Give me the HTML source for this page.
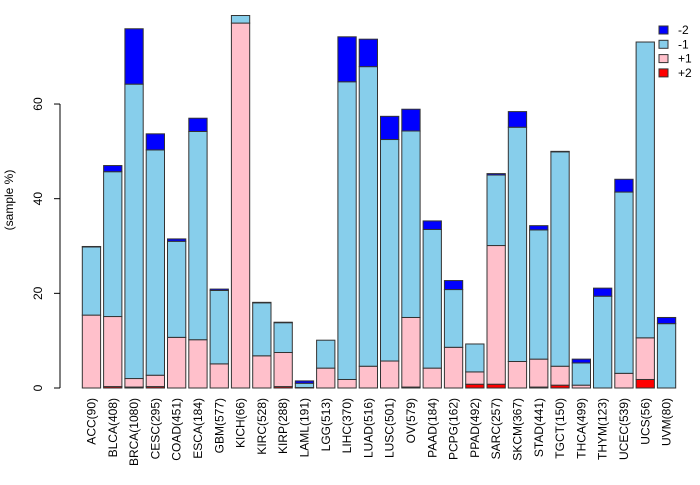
<!DOCTYPE html>
<html><head><meta charset="utf-8"><style>
body{margin:0;background:#fff}
text{font-family:"Liberation Sans",sans-serif;font-size:12px;fill:#000}
</style></head><body>
<svg id="chart" width="700" height="480" xmlns="http://www.w3.org/2000/svg"></svg>
<script>
const categories=["ACC(90)","BLCA(408)","BRCA(1080)","CESC(295)","COAD(451)","ESCA(184)","GBM(577)","KICH(66)","KIRC(528)","KIRP(288)","LAML(191)","LGG(513)","LIHC(370)","LUAD(516)","LUSC(501)","OV(579)","PAAD(184)","PCPG(162)","PPAD(492)","SARC(257)","SKCM(367)","STAD(441)","TGCT(150)","THCA(499)","THYM(123)","UCEC(539)","UCS(56)","UVM(80)"];
const plus2=[0,0.3,0.2,0.3,0,0,0,0,0,0.3,0,0,0,0,0,0.2,0,0,0.8,0.8,0,0.2,0.6,0,0,0,1.8,0];
const plus1=[15.4,14.8,1.8,2.4,10.7,10.2,5.1,77.1,6.8,7.2,0.1,4.2,1.8,4.6,5.7,14.7,4.2,8.6,2.6,29.3,5.6,5.9,4.0,0.6,0,3.1,8.8,0];
const minus1=[14.4,30.6,62.2,47.6,20.3,44.0,15.5,1.6,11.2,6.3,0.9,5.9,62.9,63.3,46.8,39.4,29.3,12.2,5.9,14.9,49.5,27.3,45.3,4.7,19.4,38.3,62.5,13.6];
const minus2=[0.1,1.3,11.7,3.4,0.5,2.8,0.3,0,0.1,0.1,0.5,0,9.5,5.8,4.9,4.6,1.8,1.9,0,0.3,3.3,0.9,0.1,0.8,1.7,2.7,0,1.3];
const yTicks=[0,20,40,60];
const seriesVals=[plus2,plus1,minus1,minus2];
const seriesNames=["+2","+1","-1","-2"];
const colors=["#ff0000","#ffc0cb","#87ceeb","#0000ff"];
const NS="http://www.w3.org/2000/svg";
const svg=document.getElementById('chart');
const y0=388, pxPerUnit=4.733, xStart=82.3, slot=21.3, bw=18.3;
function yScale(v){return y0-v*pxPerUnit;}
function xScale(i){return xStart+slot*i;}
function mk(t,a){const e=document.createElementNS(NS,t);for(const k in a)e.setAttribute(k,a[k]);svg.appendChild(e);return e;}
categories.forEach((c,i)=>{
  let cum=0;
  seriesVals.forEach((s,j)=>{
    const v=s[i]; if(v<=0)return;
    const r=mk('rect',{x:xScale(i),y:yScale(cum+v),width:bw,height:v*pxPerUnit,fill:colors[j],stroke:'#333','stroke-width':1});
    
    
    cum+=v;
  });
  const t=mk('text',{x:0,y:0,transform:`translate(${xScale(i)+bw/2+4},398) rotate(-90)`,'text-anchor':'end'});
  t.textContent=c;
  
  
});
const ax=mk('line',{x1:60,x2:60,y1:yScale(0),y2:yScale(60),stroke:'#000'});


yTicks.forEach(v=>{
  const l=mk('line',{x1:54,x2:60,y1:yScale(v),y2:yScale(v),stroke:'#000'});
  
  
  const t=mk('text',{x:0,y:0,transform:`translate(42,${yScale(v)}) rotate(-90)`,'text-anchor':'middle'});
  t.textContent=v;
  
  
});
const yt=mk('text',{x:0,y:0,transform:'translate(13,200) rotate(-90)','text-anchor':'middle'});
yt.textContent='(sample %)';


[3,2,1,0].forEach((j,k)=>{
  const yy=26+k*14.3;
  const r=mk('rect',{x:659,y:yy,width:9,height:8,fill:colors[j],stroke:'#333'});
  
  
  const t=mk('text',{x:678,y:yy+8});
  t.textContent=seriesNames[j];
  
  
});
</script>
</body></html>
